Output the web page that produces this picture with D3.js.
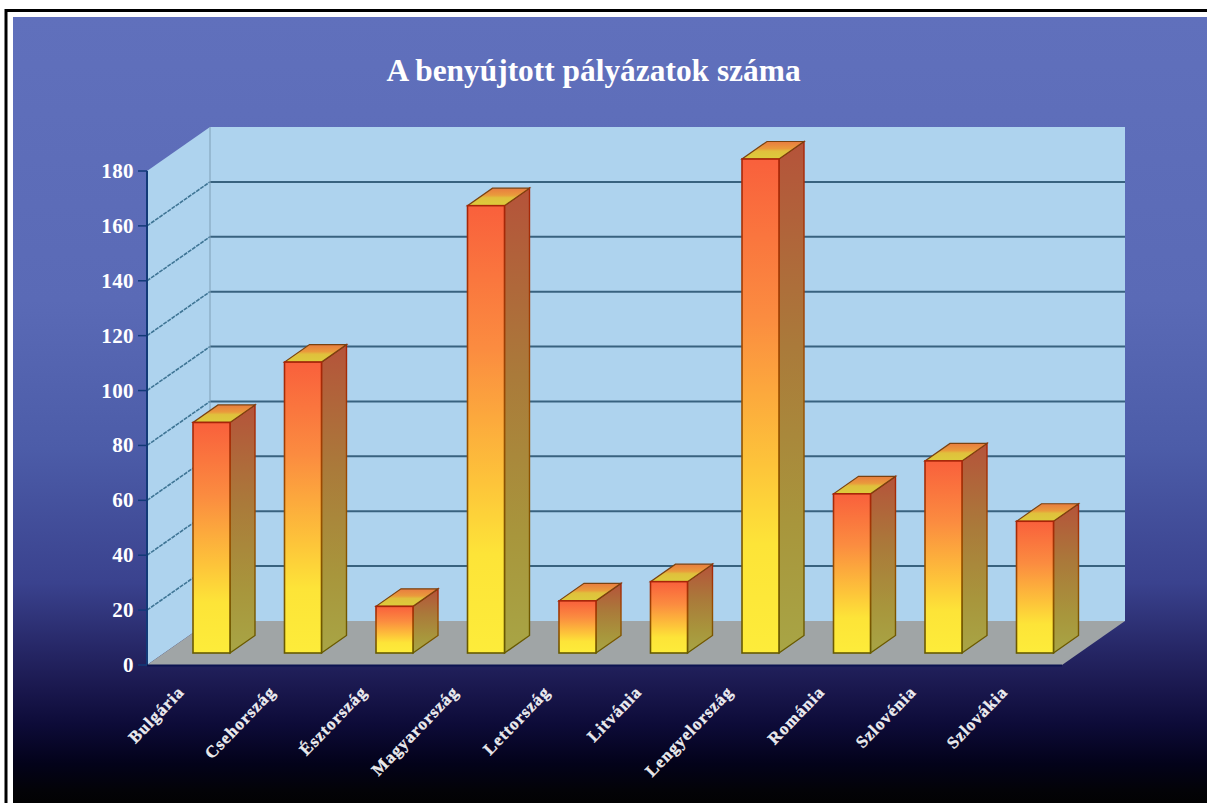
<!DOCTYPE html>
<html>
<head>
<meta charset="utf-8">
<script src="https://cdnjs.cloudflare.com/ajax/libs/d3/7.8.5/d3.min.js"></script>
<style>
html,body{margin:0;padding:0;background:#fff;overflow:hidden}
svg{display:block}
text{font-family:"Liberation Serif",serif;font-weight:bold;fill:#fff}
</style>
</head>
<body>
<svg id="chart" width="1207" height="803"></svg>
<script>
const categories = ["Bulgária","Csehország","Észtország","Magyarország","Lettország","Litvánia","Lengyelország","Románia","Szlovénia","Szlovákia"];
const applications = [84,106,17,163,19,26,180,58,70,48];
const axisTicks = [0,20,40,60,80,100,120,140,160,180];
const chartTitle = "A benyújtott pályázatok száma";
const backdropStops = [[0,"#6070bc"],[.36,"#5a6ab6"],[.55,"#4c5ca8"],[.72,"#3a428e"],[.8,"#272868"],[.85,"#1b1950"],[.9,"#0d0b38"],[.95,"#03021a"],[.985,"#030307"],[1,"#020203"]];
const frontStops = [[0,"#f9603c"],[.32,"#fb8c40"],[.62,"#fdc43a"],[.78,"#fde438"],[1,"#fdec3a"]];
const sideStops = [[0,"#b5533a"],[.4,"#aa7a3a"],[.75,"#a8963c"],[1,"#a8a545"]];
const edgeStops = [[0,"#a82408"],[.5,"#985000"],[1,"#665a00"]];
const capStops = [[0,"#e87c40"],[.4,"#ea9a3c"],[.55,"#e0c03c"],[1,"#dccc3c"]];

const svg = d3.select("#chart");
const defs = svg.append("defs");
function addGradient(id, stops){
  const g = defs.append("linearGradient").attr("id",id).attr("x1",0).attr("y1",0).attr("x2",0).attr("y2",1);
  g.selectAll("stop").data(stops).join("stop").attr("offset",d=>d[0]).attr("stop-color",d=>d[1]);
}
addGradient("backdrop",backdropStops);
addGradient("front",frontStops);
addGradient("side",sideStops);
addGradient("edge",edgeStops);
addGradient("cap",capStops);

const plotFrontX = [147,1062];
const y = d3.scaleLinear().domain([0,180]).range([665,171]);
const x = d3.scaleBand().domain(categories).range(plotFrontX);
const depth = {dx:63, dy:-44};
const barDepth = {dx:25, dy:-17.5};
const barInset = {dx:46, dy:-12};
const barWidth = 37;
const line = d3.line();
const poly = pts => line(pts)+"Z";

// Page frame
svg.append("rect").attr("x",6).attr("y",10.5).attr("width",1210).attr("height",810).attr("fill","none").attr("stroke","#000").attr("stroke-width",3);
svg.append("rect").attr("x",13).attr("y",17).attr("width",1194).attr("height",786).attr("fill","url(#backdrop)");

// Walls and floor of the 3D box
const x0 = plotFrontX[0], x1 = plotFrontX[1];
svg.append("path").attr("d",poly([[x0+depth.dx,y(180)+depth.dy],[x1+depth.dx,y(180)+depth.dy],[x1+depth.dx,y(0)+depth.dy],[x0+depth.dx,y(0)+depth.dy]])).attr("fill","#aed3ee");
svg.append("path").attr("d",poly([[x0,y(0)],[x0,y(180)],[x0+depth.dx,y(180)+depth.dy],[x0+depth.dx,y(0)+depth.dy]])).attr("fill","#aed3ee");
svg.append("path").attr("d",poly([[x0,y(0)],[x1,y(0)],[x1+depth.dx,y(0)+depth.dy],[x0+depth.dx,y(0)+depth.dy]])).attr("fill","#a0a5a6");

// Gridlines across the back wall and down the side wall
const gridValues = axisTicks.filter(v=>v>0 && v<180);
svg.append("g").selectAll("line.back").data(gridValues).join("line")
  .attr("x1",x0+depth.dx).attr("x2",x1+depth.dx)
  .attr("y1",d=>y(d)+depth.dy).attr("y2",d=>y(d)+depth.dy)
  .attr("stroke","#38627f").attr("stroke-width",2);
svg.append("g").selectAll("line.wall").data(gridValues).join("line")
  .attr("x1",x0).attr("x2",x0+depth.dx)
  .attr("y1",d=>y(d)).attr("y2",d=>y(d)+depth.dy)
  .attr("stroke","#3f7595").attr("stroke-width",1.6).attr("stroke-dasharray","4 1");
svg.append("line").attr("x1",x0+depth.dx).attr("x2",x0+depth.dx).attr("y1",y(180)+depth.dy).attr("y2",y(0)+depth.dy).attr("stroke","#7f9fb6").attr("stroke-width",1);

// Bars: front, side and top faces
const bars = svg.append("g").selectAll("g").data(categories.map((c,i)=>({c,v:applications[i]}))).join("g");
const corners = d => {
  const l = x(d.c)+barInset.dx, r = l+barWidth;
  const b = y(0)+barInset.dy, t = y(d.v)+barInset.dy;
  return {l,r,b,t};
};
bars.append("path").attr("d",d=>{const k=corners(d);return poly([[k.r,k.t],[k.r+barDepth.dx,k.t+barDepth.dy],[k.r+barDepth.dx,k.b+barDepth.dy],[k.r,k.b]]);})
  .attr("fill","url(#side)").attr("stroke","url(#edge)").attr("stroke-width",1.4);
bars.append("path").attr("d",d=>{const k=corners(d);return poly([[k.l,k.t],[k.r,k.t],[k.r+barDepth.dx,k.t+barDepth.dy],[k.l+barDepth.dx,k.t+barDepth.dy]]);})
  .attr("fill","url(#cap)").attr("stroke","#7a4210").attr("stroke-width",1.2);
bars.append("rect").attr("x",d=>corners(d).l).attr("y",d=>corners(d).t).attr("width",barWidth).attr("height",d=>{const k=corners(d);return k.b-k.t;})
  .attr("fill","url(#front)").attr("stroke","url(#edge)").attr("stroke-width",1.6);

// Axis lines
svg.append("line").attr("x1",x0).attr("x2",x0).attr("y1",y(180)).attr("y2",y(0)).attr("stroke","#123a78").attr("stroke-width",2);
svg.append("line").attr("x1",x0).attr("x2",x1).attr("y1",y(0)+.5).attr("y2",y(0)+.5).attr("stroke","#0c1450").attr("stroke-width",2);

// Value axis
svg.append("g").selectAll("line").data(axisTicks).join("line")
  .attr("x1",138).attr("x2",x0).attr("y1",d=>y(d)).attr("y2",d=>y(d)).attr("stroke","#123a78").attr("stroke-width",1.5);
svg.append("g").selectAll("text").data(axisTicks).join("text")
  .attr("x",134).attr("y",d=>y(d)+7).attr("text-anchor","end").attr("font-size",21).attr("letter-spacing",.4).text(d=>d);

// Rotated country names
svg.append("g").selectAll("text").data(categories).join("text")
  .attr("transform",c=>`translate(${x(c)+38},${693}) rotate(-46)`)
  .attr("text-anchor","end").attr("font-size",17).attr("letter-spacing",1)
  .attr("stroke","#fff").attr("stroke-width",.3).attr("fill-opacity",.92).text(c=>c);

// Title
svg.append("text").attr("x",593.5).attr("y",81).attr("text-anchor","middle").attr("font-size",31.4).text(chartTitle);
</script>
</body>
</html>
